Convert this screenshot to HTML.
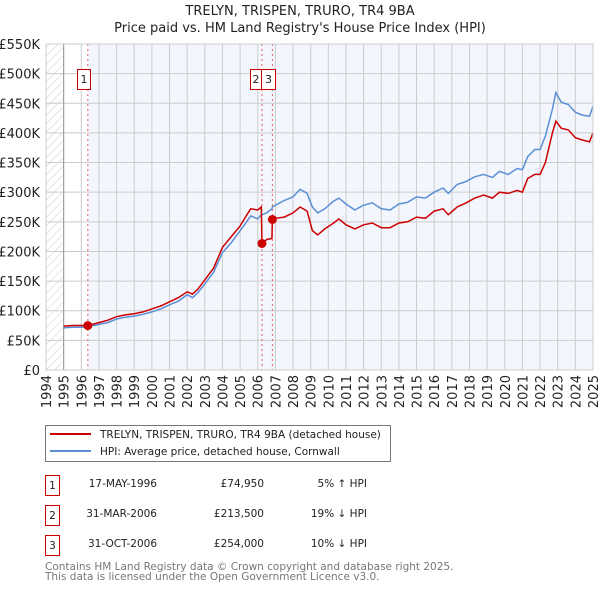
<!DOCTYPE html>
<html><head><meta charset="utf-8"><style>
body{margin:0;background:#fff;font-family:"Liberation Sans","DejaVu Sans",sans-serif;}
svg text{font-family:"DejaVu Sans","Liberation Sans",sans-serif;}
</style></head><body>
<svg id="c" width="600" height="590" xmlns="http://www.w3.org/2000/svg">
<defs><pattern id="hatch" width="6" height="6" patternUnits="userSpaceOnUse" patternTransform="rotate(45)"><line x1="0" y1="0" x2="0" y2="6" stroke="#ccc" stroke-width="1"/></pattern></defs>
<text x="300" y="15" text-anchor="middle" font-size="13" fill="#222">TRELYN, TRISPEN, TRURO, TR4 9BA</text>
<text x="300" y="32" text-anchor="middle" font-size="13" fill="#222">Price paid vs. HM Land Registry's House Price Index (HPI)</text>
<g id="plot"></g>
<g>
<rect x="45.5" y="425.5" width="345" height="36" fill="#fff" stroke="#777"/>
<line x1="50" y1="434" x2="91" y2="434" stroke="#cc0000" stroke-width="2"/>
<text x="100" y="438" font-size="10.5" fill="#222">TRELYN, TRISPEN, TRURO, TR4 9BA (detached house)</text>
<line x1="50" y1="451" x2="91" y2="451" stroke="#5b8fd4" stroke-width="2"/>
<text x="100" y="455" font-size="10.5" fill="#222">HPI: Average price, detached house, Cornwall</text>
</g>
<g font-size="10.5" fill="#222">
<rect x="45.5" y="475.5" width="14" height="20" fill="#fff" stroke="#cc0000"/><text x="52.5" y="489" text-anchor="middle">1</text>
<text x="157" y="487" text-anchor="end">17-MAY-1996</text><text x="264" y="487" text-anchor="end">£74,950</text><text x="367" y="487" text-anchor="end">5% ↑ HPI</text>
<rect x="45.5" y="505.5" width="14" height="20" fill="#fff" stroke="#cc0000"/><text x="52.5" y="519" text-anchor="middle">2</text>
<text x="157" y="517" text-anchor="end">31-MAR-2006</text><text x="264" y="517" text-anchor="end">£213,500</text><text x="367" y="517" text-anchor="end">19% ↓ HPI</text>
<rect x="45.5" y="535.5" width="14" height="20" fill="#fff" stroke="#cc0000"/><text x="52.5" y="549" text-anchor="middle">3</text>
<text x="157" y="547" text-anchor="end">31-OCT-2006</text><text x="264" y="547" text-anchor="end">£254,000</text><text x="367" y="547" text-anchor="end">10% ↓ HPI</text>
</g>
<text x="45" y="570" font-size="10.5" fill="#777">Contains HM Land Registry data © Crown copyright and database right 2025.</text>
<text x="45" y="580" font-size="10.5" fill="#777">This data is licensed under the Open Government Licence v3.0.</text>
</svg>
<script>
const dates=[1995.0,1995.5,1996.0,1996.37,1997.0,1997.5,1998.0,1998.5,1999.0,1999.5,2000.0,2000.5,2001.0,2001.5,2002.0,2002.3,2002.6,2003.0,2003.5,2004.0,2004.5,2005.0,2005.3,2005.6,2006.0,2006.2,2006.24,2006.5,2006.8,2006.83,2007.0,2007.5,2008.0,2008.4,2008.8,2009.1,2009.4,2009.8,2010.3,2010.6,2011.0,2011.5,2012.0,2012.5,2013.0,2013.5,2014.0,2014.5,2015.0,2015.5,2016.0,2016.5,2016.8,2017.3,2017.8,2018.3,2018.8,2019.3,2019.7,2020.2,2020.7,2021.0,2021.3,2021.7,2022.0,2022.3,2022.7,2022.9,2023.2,2023.6,2024.0,2024.4,2024.8,2025.0];
const hpi=[71,72,72,73,77,80,86,89,91,94,98,103,110,116,127,122,130,145,165,198,215,235,247,260,255,262,262,265,272,275,278,286,292,305,298,275,265,272,285,290,280,270,278,282,272,270,280,283,292,290,300,307,298,313,318,326,330,325,335,330,340,338,360,372,372,395,440,468,452,448,435,430,428,445];
const price=[74,75,75,75,80,84,90,93,95,98,103,108,115,122,132,128,136,152,172,207,225,243,258,272,270,275,213.5,220,222,254,256,258,265,275,268,235,228,238,248,255,245,238,245,248,240,240,248,250,258,256,268,272,262,275,282,290,295,290,300,298,303,300,323,330,330,350,400,420,408,405,392,388,385,400];
const saleDates=[1996.37,2006.24,2006.83];
const salePrices=[74.95,213.5,254];
const saleLabels=["1","2","3"];
const yTicks=[0,50,100,150,200,250,300,350,400,450,500,550];
const yTickLabels=["£0","£50K","£100K","£150K","£200K","£250K","£300K","£350K","£400K","£450K","£500K","£550K"];
const years=[];for(let y=1994;y<=2025;y++)years.push(y);

const L=46,R=593,T=44,B=370;
const X=t=>L+(t-1994)*(R-L)/31;
const Y=v=>B-v*(B-T)/550;
const g=document.getElementById('plot');
const NS='http://www.w3.org/2000/svg';
function mk(tag,a,p){const e=document.createElementNS(NS,tag);for(const k in a)e.setAttribute(k,a[k]);(p||g).appendChild(e);return e;}
let e;
e=mk('rect',{x:L,y:T,width:X(1995)-L,height:B-T,fill:'url(#hatch)'});


e=mk('rect',{x:X(saleDates[0]),y:T,width:R-X(saleDates[0]),height:B-T,fill:'#f3f6fd'});


yTicks.forEach((v,i)=>{
 e=mk('line',{x1:L,x2:R,y1:Y(v),y2:Y(v),stroke:'#ccc','stroke-width':1});
 
 
 e=mk('text',{x:L-6,y:Y(v)+5,'text-anchor':'end','font-size':13,fill:'#222'});e.textContent=yTickLabels[i];
 
 
});
years.forEach(y=>{
 e=mk('line',{x1:X(y),x2:X(y),y1:T,y2:B,stroke:'#ccc','stroke-width':1});
 
 
 e=mk('text',{x:0,y:0,'text-anchor':'end','font-size':13,fill:'#222',transform:`translate(${X(y)+5},${B+5}) rotate(-90)`});e.textContent=y;
 
 
});
e=mk('line',{x1:X(1995),x2:X(1995),y1:T,y2:B,stroke:'#999','stroke-width':1});


saleDates.forEach((d,i)=>{
 e=mk('line',{x1:X(d),x2:X(d),y1:T,y2:B,stroke:'#e06060','stroke-width':1,'stroke-dasharray':'2,3'});
 
 
});
const pts=(arr)=>dates.map((d,i)=>X(d).toFixed(1)+','+Y(arr[i]).toFixed(1)).join(' ');
e=mk('polyline',{points:pts(hpi),fill:'none',stroke:'#5b8fd4','stroke-width':1.5});


e=mk('polyline',{points:pts(price),fill:'none',stroke:'#cc0000','stroke-width':1.5});


const boxX=[77.5,250.5,261.5],boxW=[13,11,14];
saleDates.forEach((d,i)=>{
 e=mk('circle',{cx:X(d),cy:Y(salePrices[i]),r:4.5,fill:'#cc0000'});
 
 
 e=mk('rect',{x:boxX[i],y:69.5,width:boxW[i],height:20,fill:'#fff',stroke:'#cc0000'});
 
 
 e=mk('text',{x:boxX[i]+boxW[i]/2,y:83,'text-anchor':'middle','font-size':11,fill:'#222'});e.textContent=saleLabels[i];
 
 
});
e=mk('rect',{x:L,y:T,width:R-L,height:B-T,fill:'none',stroke:'#ccc'});


</script>
</body></html>
